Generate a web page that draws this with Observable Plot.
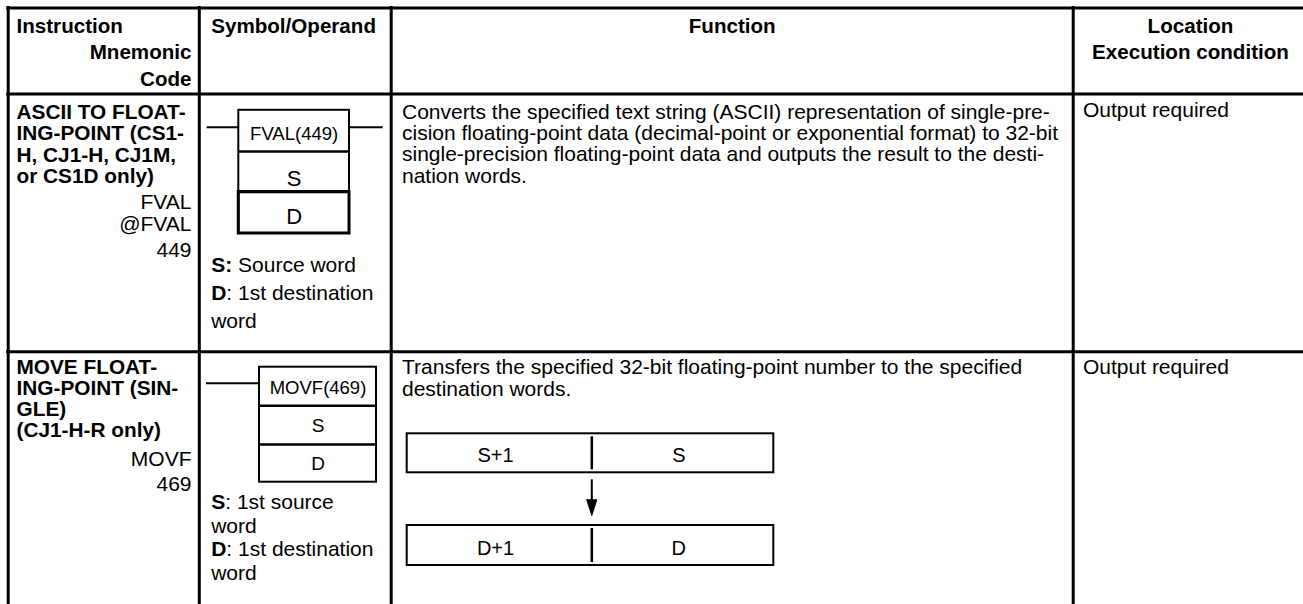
<!DOCTYPE html>
<html>
<head>
<meta charset="utf-8">
<script src="https://cdn.jsdelivr.net/npm/d3@7"></script>
<script src="https://cdn.jsdelivr.net/npm/@observablehq/plot@0.6"></script>
<style>
  html, body { margin: 0; padding: 0; background: #fff; }
  #chart { width: 1303px; height: 604px; overflow: hidden; }
</style>
</head>
<body>
<div id="chart"></div>
<script>
// ---------------- data (texts of the table) ----------------
const headerCol1 = ["Instruction", "Mnemonic", "Code"];
const headerCol2 = ["Symbol/Operand"];
const headerCol3 = ["Function"];
const headerCol4 = ["Location", "Execution condition"];

const instructionNames = [
  ["ASCII TO FLOAT-", "ING-POINT (CS1-", "H, CJ1-H, CJ1M,", "or CS1D only)"],
  ["MOVE FLOAT-", "ING-POINT (SIN-", "GLE)", "(CJ1-H-R only)"]
];
const mnemonics = [["FVAL", "@FVAL"], ["MOVF"]];
const codes = ["449", "469"];
const symbolNames = ["FVAL(449)", "MOVF(469)"];
const operands = [["S", "D"], ["S", "D"]];
const noteBold = [["S:", "D", ""], ["S", "", "D", ""]];
const noteRegular = [
  [" Source word", ": 1st destination", "word"],
  [": 1st source", "word", ": 1st destination", "word"]
];
const functionTexts = [
  [
    "Converts the specified text string (ASCII) representation of single-pre-",
    "cision floating-point data (decimal-point or exponential format) to 32-bit",
    "single-precision floating-point data and outputs the result to the desti-",
    "nation words."
  ],
  [
    "Transfers the specified 32-bit floating-point number to the specified",
    "destination words."
  ]
];
const conditions = ["Output required", "Output required"];
const sourceWords = ["S+1", "S"];
const destWords = ["D+1", "D"];

// ---------------- layout (positions / styles) ----------------
const W = 1303, H = 604;
const FONT = '"Liberation Sans", Arial, Helvetica, sans-serif';
const colRules = [7.7, 198.8, 390.7, 1072.7];
const rowRules = [7.5, 93.5, 351.3];
const col1L = 16, col1R = 191, col2L = 210.7, col3L = 401.5, col4L = 1082.5;
const col3C = (colRules[2] + colRules[3]) / 2;
const col4C = 1190;
const header = {y: 32.3, step: 26.5, size: 20.6};
const boldSize = 20.8;
const bodySize = 21;
const rows = [
  {nameY: 118.3, nameStep: 21.5, mnemY: 208.3, mnemStep: 21.7, codeGap: 26.7,
   box: [238.3, 349], cells: [109.8, 151, 191.5, 233], boxPad: [11.5, 6.3, 9.8], symSize: 18.5, opSize: 22,
   wireY: 126.7, wireL: 206.7, wireR: 382.7, thickLast: true,
   noteY: 271.7, noteStep: 28, funcY: 118.3, funcStep: 21.3, condY: 116.7},
  {nameY: 373.3, nameStep: 21.2, mnemY: 465, mnemStep: 21.7, codeGap: 25.7,
   box: [259, 376], cells: [366.7, 405.3, 444, 481.7], boxPad: [12.3, 12.3, 12.4], symSize: 18.5, opSize: 19,
   wireY: 382.7, wireL: 206, wireR: null, thickLast: false,
   noteY: 508.3, noteStep: 23.7, funcY: 373.3, funcStep: 22.4, condY: 373.3}
];
const diagram = {x1: 406.7, xm: 591.3, x2: 773.3, top: [433.3, 472.3], bottom: [525, 565],
  labelPad: 10.4, labelShift: -4, labelSize: 20, arrowTop: 479.3, headTop: 499.3, tip: 515, headHalf: 5};

// ---------------- helpers ----------------
const ctx = document.createElement("canvas").getContext("2d");
function measure(text, size, weight) {
  ctx.font = `${weight} ${size}px "Liberation Sans", Arial, sans-serif`;
  return ctx.measureText(text).width;
}
const texts = [];
function T(text, x, y, size, anchor = "start", weight = "normal") {
  if (text) texts.push({text, x, y, size, anchor, weight});
}

// header
T(headerCol1[0], col1L, header.y, header.size, "start", "bold");
T(headerCol1[1], col1R, header.y + header.step, header.size, "end", "bold");
T(headerCol1[2], col1R, header.y + 2 * header.step, header.size, "end", "bold");
headerCol2.forEach((s, i) => T(s, col2L, header.y + i * header.step, header.size, "start", "bold"));
headerCol3.forEach((s, i) => T(s, col3C, header.y + i * header.step, header.size, "middle", "bold"));
headerCol4.forEach((s, i) => T(s, col4C, header.y + i * header.step, header.size, "middle", "bold"));

const boxRects = [], boxDividers = [], thickRects = [], wires = [];
rows.forEach((L, r) => {
  instructionNames[r].forEach((s, i) => T(s, col1L, L.nameY + i * L.nameStep, boldSize, "start", "bold"));
  mnemonics[r].forEach((s, i) => T(s, col1R, L.mnemY + i * L.mnemStep, bodySize, "end"));
  T(codes[r], col1R, L.mnemY + (mnemonics[r].length - 1) * L.mnemStep + L.codeGap, bodySize, "end");
  // symbol box
  const bx = (L.box[0] + L.box[1]) / 2;
  [symbolNames[r], ...operands[r]].forEach((s, i) =>
    T(s, bx, L.cells[i + 1] - L.boxPad[i], i === 0 ? L.symSize : L.opSize, "middle"));
  boxRects.push({x1: L.box[0], x2: L.box[1], y1: L.cells[0], y2: L.cells[L.cells.length - 1]});
  L.cells.slice(1, -1).forEach(y => boxDividers.push({y, x1: L.box[0], x2: L.box[1]}));
  if (L.thickLast) thickRects.push({x1: L.box[0], x2: L.box[1], y1: L.cells[L.cells.length - 2], y2: L.cells[L.cells.length - 1]});
  wires.push({y: L.wireY, x1: L.wireL, x2: L.box[0]});
  if (L.wireR) wires.push({y: L.wireY, x1: L.box[1], x2: L.wireR});
  // notes
  noteBold[r].forEach((b, i) => {
    const y = L.noteY + i * L.noteStep;
    T(b, col2L, y, bodySize, "start", "bold");
    T(noteRegular[r][i], col2L + (b ? measure(b, bodySize, "bold") : 0), y, bodySize, "start");
  });
  functionTexts[r].forEach((s, i) => T(s, col3L, L.funcY + i * L.funcStep, bodySize, "start"));
  T(conditions[r], col4L, L.condY, bodySize, "start");
});

// diagram
const halves = [[diagram.x1, diagram.xm], [diagram.xm, diagram.x2]];
const diagRects = [
  {x1: diagram.x1, x2: diagram.x2, y1: diagram.top[0], y2: diagram.top[1]},
  {x1: diagram.x1, x2: diagram.x2, y1: diagram.bottom[0], y2: diagram.bottom[1]}
];
sourceWords.forEach((s, i) => T(s, (halves[i][0] + halves[i][1]) / 2 + diagram.labelShift, diagram.top[1] - diagram.labelPad, diagram.labelSize, "middle"));
destWords.forEach((s, i) => T(s, (halves[i][0] + halves[i][1]) / 2 + diagram.labelShift, diagram.bottom[1] - diagram.labelPad, diagram.labelSize, "middle"));
const diagDividers = diagRects.map(d => ({x: diagram.xm, y1: d.y1 + 3, y2: d.y2 - 3}));
const arrowHead = [
  {x: diagram.xm - diagram.headHalf, y: diagram.headTop},
  {x: diagram.xm + diagram.headHalf, y: diagram.headTop},
  {x: diagram.xm, y: diagram.tip},
  {x: diagram.xm - diagram.headHalf, y: diagram.headTop}
];

// text marks grouped by anchor & weight
const textMarks = [];
for (const anchor of ["start", "middle", "end"]) {
  for (const weight of ["normal", "bold"]) {
    const sub = texts.filter(d => d.anchor === anchor && d.weight === weight);
    if (!sub.length) continue;
    textMarks.push(Plot.text(sub, {
      x: "x", y: "y", text: "text", fontSize: d => d.size,
      textAnchor: anchor, fontWeight: weight, lineAnchor: "bottom", fill: "black"
    }));
  }
}

const chart = Plot.plot({
  width: W, height: H, margin: 0,
  x: {domain: [0, W], range: [0, W], axis: null},
  y: {domain: [0, H], range: [0, H], axis: null},
  style: {background: "white", color: "black", fontFamily: FONT},
  marks: [
    // table rules
    Plot.ruleY(rowRules, {y: d => d, x1: colRules[0] - 1.5, x2: W, stroke: "black", strokeWidth: 3}),
    Plot.ruleX(colRules, {x: d => d, y1: rowRules[0] - 1.5, y2: H, stroke: "black", strokeWidth: 3}),
    // ladder symbol boxes
    Plot.ruleY(wires, {y: "y", x1: "x1", x2: "x2", stroke: "black", strokeWidth: 2}),
    Plot.rect(boxRects, {x1: "x1", x2: "x2", y1: "y1", y2: "y2", fill: "none", stroke: "black", strokeWidth: 2}),
    Plot.ruleY(boxDividers, {y: "y", x1: "x1", x2: "x2", stroke: "black", strokeWidth: 2.5}),
    Plot.rect(thickRects, {x1: "x1", x2: "x2", y1: "y1", y2: "y2", fill: "none", stroke: "black", strokeWidth: 3}),
    // word transfer diagram
    Plot.rect(diagRects, {x1: "x1", x2: "x2", y1: "y1", y2: "y2", fill: "none", stroke: "black", strokeWidth: 2}),
    Plot.ruleX(diagDividers, {x: "x", y1: "y1", y2: "y2", stroke: "black", strokeWidth: 2.5}),
    Plot.ruleX([diagram.xm], {x: d => d, y1: diagram.arrowTop, y2: diagram.headTop + 2, stroke: "black", strokeWidth: 2}),
    Plot.line(arrowHead, {x: "x", y: "y", fill: "black", stroke: "black", strokeWidth: 1}),
    ...textMarks
  ]
});
document.getElementById("chart").appendChild(chart);
</script>
</body>
</html>
